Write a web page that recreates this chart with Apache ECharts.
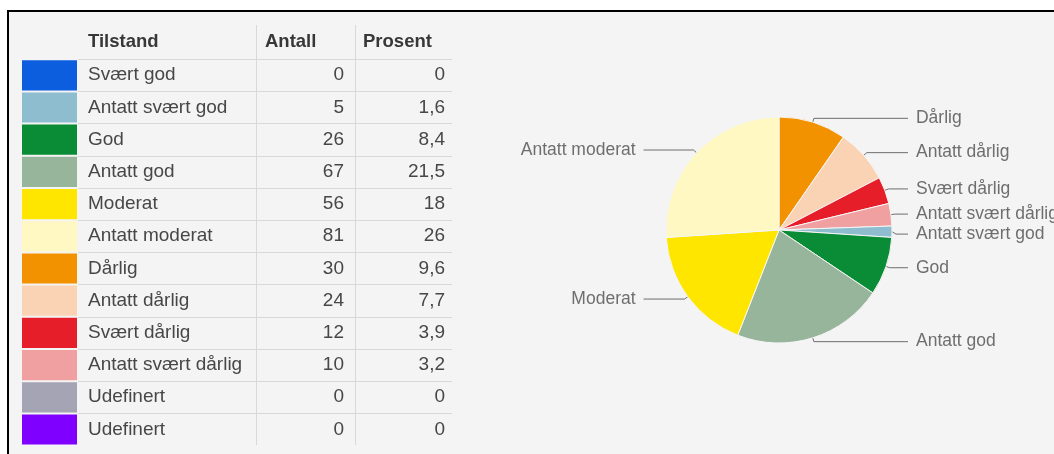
<!DOCTYPE html>
<html lang="no">
<head>
    <meta charset="UTF-8">
    <title>Tilstand</title>
    <script src="https://cdn.jsdelivr.net/npm/echarts@6/dist/echarts.min.js"></script>
    <style>
        body {
            padding: 0;
            margin: 0;
            border: none;
            background: #fff;
        }
        #ec {
            width: 1054px;
            height: 454px;
        }
    </style>
</head>
<body>
<div id="ec"></div>
<script>
    // tabellen
    const kolonner = ['Tilstand', 'Antall', 'Prosent'];
    const tilstand = ['Svært god', 'Antatt svært god', 'God', 'Antatt god', 'Moderat', 'Antatt moderat',
        'Dårlig', 'Antatt dårlig', 'Svært dårlig', 'Antatt svært dårlig', 'Udefinert', 'Udefinert'];
    const antall = [0, 5, 26, 67, 56, 81, 30, 24, 12, 10, 0, 0];
    const prosent = ['0', '1,6', '8,4', '21,5', '18', '26', '9,6', '7,7', '3,9', '3,2', '0', '0'];
    const farger = ['#0d5ddf', '#8fbdd0', '#0a8c36', '#97b59b', '#ffe600', '#fff8c2',
        '#f39200', '#f9d3b3', '#e61e2a', '#f0a0a0', '#a4a4b4', '#8000ff'];
    // kaka starter med Dårlig øverst og går med klokka
    const kakeRekkefolge = ['Dårlig', 'Antatt dårlig', 'Svært dårlig', 'Antatt svært dårlig',
        'Antatt svært god', 'God', 'Antatt god', 'Moderat', 'Antatt moderat'];

    const font = 'Liberation Sans, Arial, sans-serif';
    const radTopp = 59;      // linje under overskrift
    const radHoyde = 32.2;
    const kolX = {navn: 88, antall: 344, prosent: 445};

    let ec = null;

    function lagTabell() {
        let g = [];
        // bakgrunn og ramme
        g.push({type: 'rect', shape: {x: 7, y: 10, width: 1047, height: 444}, style: {fill: '#f4f4f4'}});
        g.push({type: 'rect', shape: {x: 7, y: 10, width: 1047, height: 2}, style: {fill: '#000'}});
        g.push({type: 'rect', shape: {x: 7, y: 10, width: 2, height: 444}, style: {fill: '#000'}});
        // overskrift
        [88, 265, 363].forEach((x, i) => {
            g.push({
                type: 'text',
                style: {x: x, y: 42, text: kolonner[i], fill: '#383838', fontFamily: font,
                    fontSize: 18.5, fontWeight: 'bold', align: 'left', verticalAlign: 'middle'}
            });
        });
        // loddrette linjer
        [256.5, 355.5].forEach(x => {
            g.push({type: 'line', shape: {x1: x, y1: 25, x2: x, y2: 445}, style: {stroke: '#d9d9d9', lineWidth: 1}});
        });
        for (let i = 0; i < tilstand.length; i++) {
            let y0 = radTopp + i * radHoyde;
            let ym = y0 + radHoyde / 2;
            g.push({type: 'line', shape: {x1: 78, y1: Math.round(y0) + 0.5, x2: 452, y2: Math.round(y0) + 0.5},
                style: {stroke: '#d9d9d9', lineWidth: 1}});
            g.push({type: 'rect', shape: {x: 22, y: y0 + 1.2, width: 55, height: radHoyde - 2},
                style: {fill: farger[i]}});
            g.push({type: 'text', style: {x: kolX.navn, y: ym, text: tilstand[i], fill: '#474747',
                    fontFamily: font, fontSize: 19, align: 'left', verticalAlign: 'middle'}});
            g.push({type: 'text', style: {x: kolX.antall, y: ym, text: String(antall[i]), fill: '#474747',
                    fontFamily: font, fontSize: 19, align: 'right', verticalAlign: 'middle'}});
            g.push({type: 'text', style: {x: kolX.prosent, y: ym, text: prosent[i], fill: '#474747',
                    fontFamily: font, fontSize: 19, align: 'right', verticalAlign: 'middle'}});
        }
        return g;
    }

    function lagKake() {
        let total = 0;
        kakeRekkefolge.forEach(n => total += antall[tilstand.indexOf(n)]);
        let sum = 0;
        return kakeRekkefolge.map(n => {
            let i = tilstand.indexOf(n);
            let midt = (sum + antall[i] / 2) / total;
            sum += antall[i];
            let hoyre = midt < 0.5;
            return {
                name: n,
                value: antall[i],
                itemStyle: {color: farger[i]},
                labelLine: {length2: hoyre ? 12 : 41}
            };
        });
    }

    window.onload = function () {
        ec = echarts.init(document.getElementById('ec'));
        ec.setOption({
            backgroundColor: '#fff',
            animation: false,
            graphic: {elements: lagTabell()},
            series: [{
                type: 'pie',
                center: [779, 230],
                radius: 113,
                startAngle: 90,
                clockwise: true,
                avoidLabelOverlap: true,
                itemStyle: {borderColor: '#f6f6f6', borderWidth: 1},
                label: {
                    show: true,
                    formatter: '{b}',
                    color: '#6e6e6e',
                    fontFamily: font,
                    fontSize: 17.5,
                    lineHeight: 18,
                    width: 200,
                    alignTo: 'labelLine',
                    distanceToLabelLine: 8
                },
                labelLine: {
                    show: true,
                    length: 4,
                    length2: 12,
                    lineStyle: {color: '#6e6e6e', width: 1}
                },
                emphasis: {scale: false},
                data: lagKake()
            }]
        });
    };
</script>
</body>
</html>
